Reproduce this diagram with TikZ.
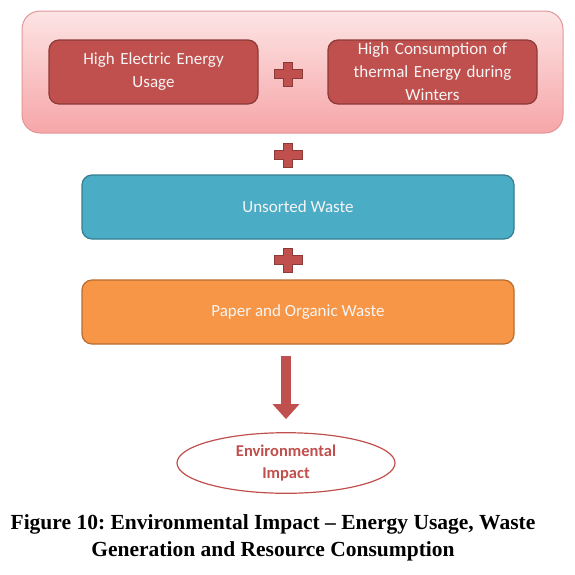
\documentclass[tikz,border=0pt]{standalone}
\usepackage{fontspec}
\setmainfont{Carlito}
\newfontfamily\captionfont{Liberation Serif}
\usetikzlibrary{arrows.meta,shapes.geometric,positioning}
\definecolor{usagered}{RGB}{192,80,77}
\definecolor{usagereddark}{RGB}{140,58,56}
\definecolor{wasteblue}{RGB}{75,172,198}
\definecolor{wastebluedark}{RGB}{53,125,145}
\definecolor{wasteorange}{RGB}{247,150,70}
\definecolor{wasteorangedark}{RGB}{182,109,49}
\definecolor{panelpinktop}{RGB}{253,228,228}
\definecolor{panelpinkbot}{RGB}{246,166,168}
\definecolor{panelpinkline}{RGB}{225,150,150}
\frenchspacing

\begin{document}
\begin{tikzpicture}[x=1pt, y=-1pt, >=Stealth,
      font=\fontsize{17}{23}\selectfont,
      panel/.style={draw=panelpinkline, line width=1pt, rounded corners=18pt,
                    top color=panelpinktop, bottom color=panelpinkbot,
                    minimum width=541pt, minimum height=122pt},
      box/.style={draw, line width=1.2pt, rounded corners=10pt, align=center,
                  text=white!96!black, inner sep=2pt},
      energybox/.style={box, fill=usagered, draw=usagereddark,
                        minimum width=209pt, minimum height=64pt, text width=200pt},
      wastebox/.style={box, minimum width=432pt, minimum height=64pt},
      plus/.pic={
        \filldraw[fill=usagered, draw=usagereddark, line width=0.6pt]
          (-4.5,-12) -- (4.5,-12) -- (4.5,-4.5) -- (14,-4.5) -- (14,4.5)
          -- (4.5,4.5) -- (4.5,12) -- (-4.5,12) -- (-4.5,4.5) -- (-14,4.5)
          -- (-14,-4.5) -- (-4.5,-4.5) -- cycle;
      },
      impact/.style={ellipse, draw=usagered, line width=1.2pt, fill=white,
                     minimum width=218pt, minimum height=58pt, align=center,
                     text=usagered, font=\fontsize{16.5}{22}\selectfont\bfseries}
    ]
    \useasboundingbox (0,0) rectangle (575,574);

    % energy panel
    \node[panel] (energy) at (292.5,72) {};
    \node[energybox] (electric) at (153.5,72) {High Electric Energy\\Usage};
    \node[energybox] (thermal) at (432.5,72)
          {High Consumption of\\thermal Energy during\\Winters};
    \pic at (288,74) {plus};

    % waste
    \pic at (288,155) {plus};
    \node[wastebox, fill=wasteblue, draw=wastebluedark] (unsorted) at (298,207)
          {Unsorted Waste};
    \pic at (288,260) {plus};
    \node[wastebox, fill=wasteorange, draw=wasteorangedark] (organic) at (298,312)
          {Paper and Organic Waste};

    % result
    \node[impact] (envimpact) at (286,463) {Environmental\\Impact};
    \draw[usagered, line width=10pt, shorten <=11pt, shorten >=13pt,
          -{Triangle[width=26pt,length=15pt]}]
      (envimpact.north |- organic.south) -- (envimpact.north);

    \node[font=\captionfont\fontsize{21.5}{27}\selectfont\bfseries, align=center]
      (caption) at (273,538)
      {Figure 10: Environmental Impact – Energy Usage, Waste\\
       Generation and Resource Consumption};
  \end{tikzpicture}
\end{document}
